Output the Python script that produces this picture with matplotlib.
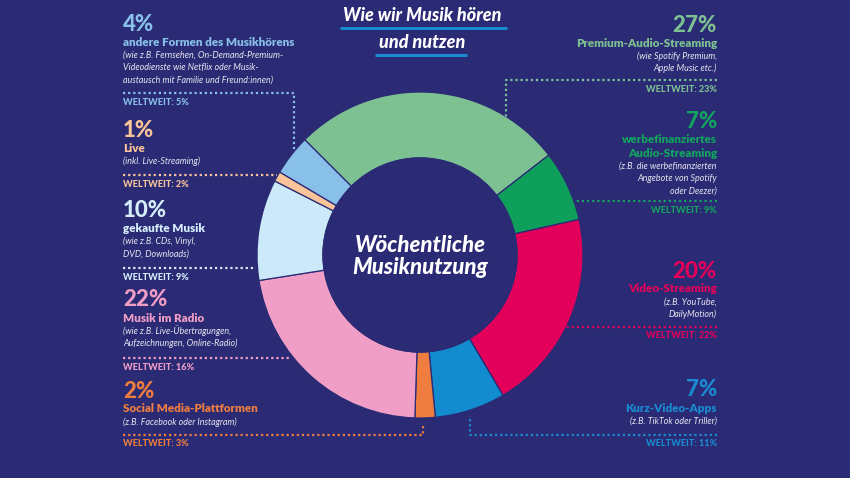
import matplotlib.pyplot as plt
from matplotlib.patches import Circle

# --- data -----------------------------------------------------------------
shares = [27, 7, 20, 7, 2, 22, 10, 1, 4]
names = [
    ["Premium-Audio-Streaming"],
    ["werbefinanziertes", "Audio-Streaming"],
    ["Video-Streaming"],
    ["Kurz-Video-Apps"],
    ["Social Media-Plattformen"],
    ["Musik im Radio"],
    ["gekaufte Musik"],
    ["Live"],
    ["andere Formen des Musikhörens"],
]
details = [
    ["(wie Spotify Premium,", "Apple Music etc.)"],
    ["(z.B. die werbefinanzierten", "Angebote von Spotify", "oder Deezer)"],
    ["(z.B. YouTube,", "DailyMotion)"],
    ["(z.B. TikTok oder Triller)"],
    ["(z.B. Facebook oder Instagram)"],
    ["(wie z.B. Live-Übertragungen,", "Aufzeichnungen, Online-Radio)"],
    ["(wie z.B. CDs, Vinyl,", "DVD, Downloads)"],
    ["(inkl. Live-Streaming)"],
    ["(wie z.B. Fernsehen, On-Demand-Premium-",
     "Videodienste wie Netflix oder Musik-",
     "austausch mit Familie und Freund:innen)"],
]
worldwide = [23, 9, 22, 11, 3, 16, 9, 2, 5]
title_lines = ["Wie wir Musik hören", "und nutzen"]
center_lines = ["Wöchentliche", "Musiknutzung"]

# --- style ----------------------------------------------------------------
BG = "#2B2A74"
wedge_colors = ["#7DC193", "#0E9F5B", "#E2005A", "#128BCF", "#EE7D3F",
                "#F09EC6", "#CCE9F9", "#F9C49A", "#88C0E9"]
text_colors = ["#7DC193", "#12A35E", "#E2005A", "#1A8BD0", "#EE7D3F",
               "#F09EC6", "#D6EEFB", "#F9C49A", "#88C0E9"]
DETAIL = "#E6E6F0"
W, H = 850, 478
XL, XR = 123, 717

# label blocks: side, y of the big number (pixel, from top)
block_side = ["R", "R", "R", "R", "L", "L", "L", "L", "L"]
block_top = [25, 121, 271, 390, 391, 300, 210, 130, 24]
# connector polylines in pixels (from top)
connectors = [
    [(XR, 80), (506, 80), (506, 117)],
    [(XR, 201), (575, 201)],
    [(XR, 327), (566, 327)],
    [(XR, 435), (470, 435), (470, 416)],
    [(XL, 435), (423, 435), (423, 424)],
    [(XL, 358), (290, 358)],
    [(XL, 268), (256, 268)],
    [(XL, 175), (277, 175)],
    [(XL, 93), (294, 93), (294, 150)],
]

plt.rcParams["font.family"] = ["Lato", "DejaVu Sans"]

fig = plt.figure(figsize=(W / 100, H / 100), dpi=100, facecolor=BG)
ax = fig.add_axes([0, 0, 1, 1])
ax.set_facecolor(BG)


def fy(y):
    return H - y


cx, cy, r_out, r_in = 420, 255, 163, 97
ax.pie(shares, colors=wedge_colors, startangle=135, counterclock=False,
       radius=r_out, center=(cx, fy(cy)),
       wedgeprops=dict(width=r_out - r_in, edgecolor=BG, linewidth=0.9))
ax.add_patch(Circle((cx, fy(cy)), r_in, color=BG, zorder=3))

for i, line in enumerate(center_lines):
    ax.text(cx, fy(245 + i * 22), line, ha="center", va="center", color="white",
            fontsize=16, fontweight="black", fontstyle="italic", zorder=4)

# title with blue underlines
for i, (line, x0, x1) in enumerate(zip(title_lines, [340, 375], [507, 467])):
    y = 15 + i * 27
    ax.text(cx + 2, fy(y), line, ha="center", va="center", color="white",
            fontsize=13, fontweight="black", fontstyle="italic")
    ax.plot([x0, x1], [fy(y + 13), fy(y + 13)], color="#1A8BD0", lw=2.2,
            solid_capstyle="butt")

for i in range(len(shares)):
    col = text_colors[i]
    right = block_side[i] == "R"
    x = XR if right else XL
    ha = "right" if right else "left"
    y = block_top[i]
    ax.text(x, fy(y), f"{shares[i]}%", ha=ha, va="center", color=col,
            fontsize=16, fontweight="black")
    y += 18
    for j, nm in enumerate(names[i]):
        ax.text(x, fy(y), nm, ha=ha, va="center", color=col,
                fontsize=8.4, fontweight="heavy")
        y += 14
    y -= 1
    for dt in details[i]:
        ax.text(x, fy(y), dt, ha=ha, va="center", color=DETAIL,
                fontsize=6.4, fontstyle="italic")
        y += 12.7
    pts = connectors[i]
    ax.plot([p[0] for p in pts], [fy(p[1]) for p in pts], color=col, lw=1.6,
            linestyle=(0, (1, 1.3)), zorder=1)
    ly = pts[0][1]
    ax.text(x, fy(ly + 9), f"WELTWEIT: {worldwide[i]}%", ha=ha, va="center",
            color=col, fontsize=6.6, fontweight="black")

ax.set_xlim(0, W)
ax.set_ylim(0, H)
ax.set_aspect("auto")
ax.axis("off")

fig.savefig("out.png", dpi=100, facecolor=BG)
